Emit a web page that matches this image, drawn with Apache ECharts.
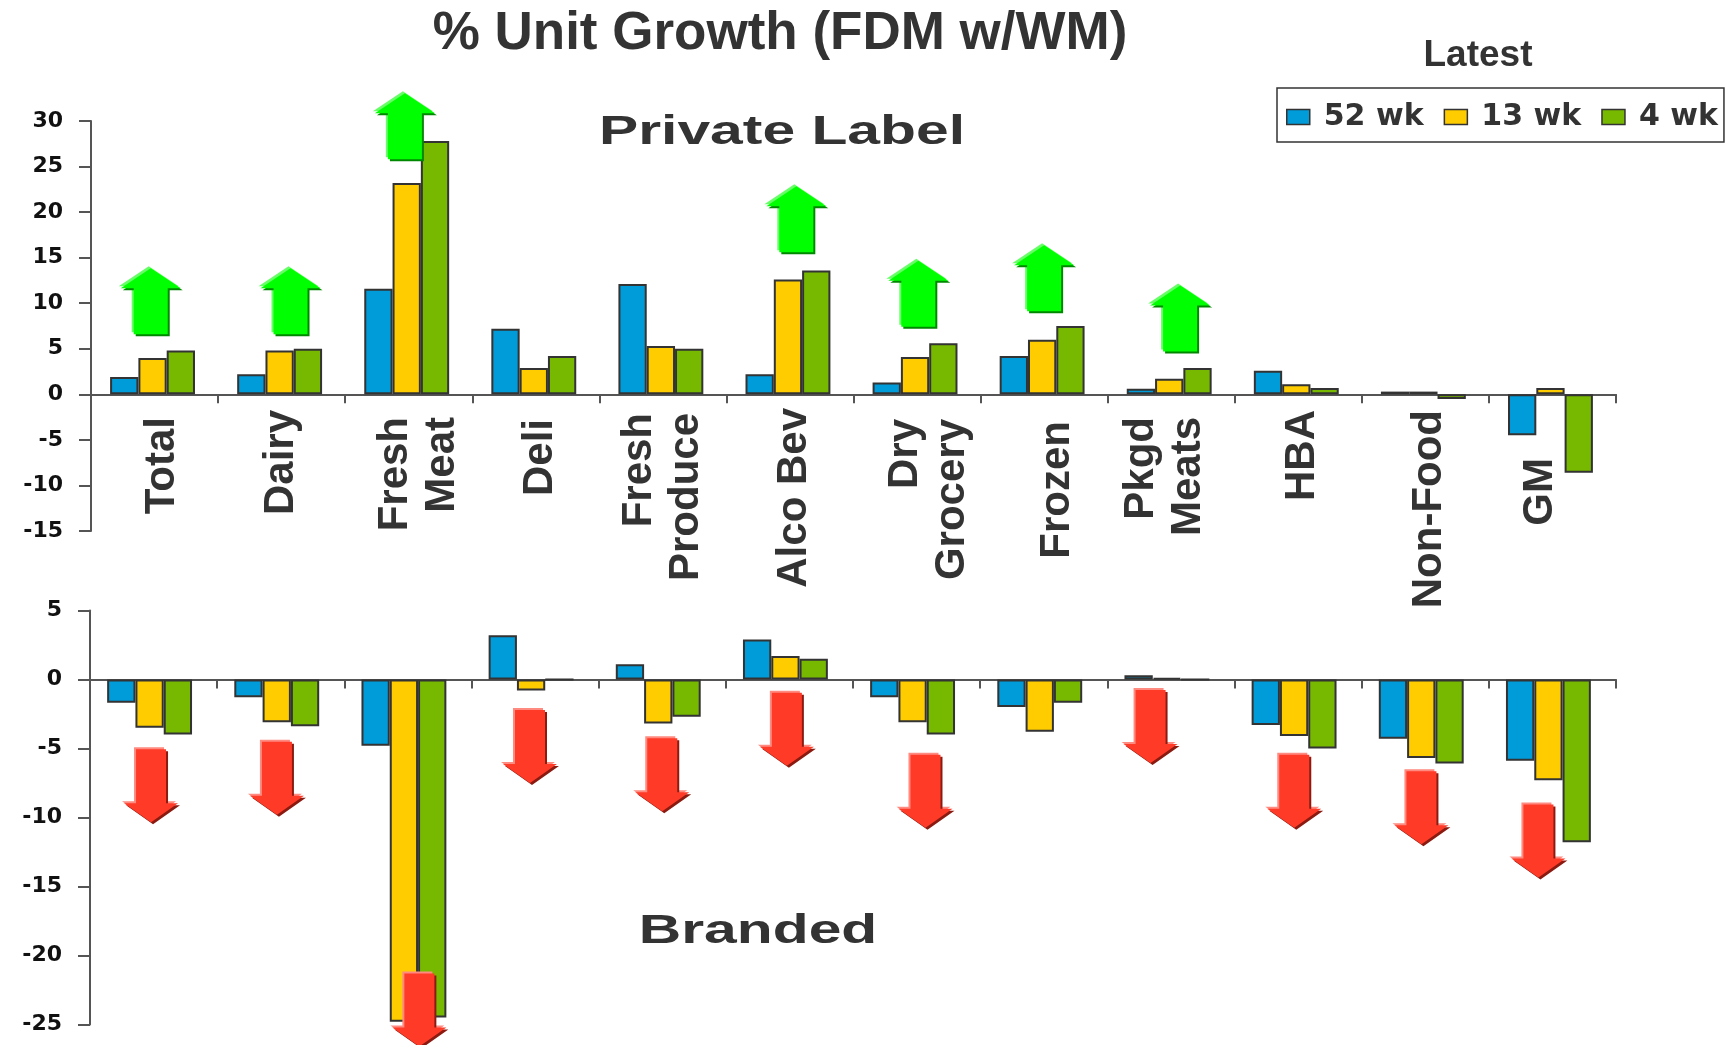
<!DOCTYPE html>
<html>
<head>
<meta charset="utf-8">
<title>% Unit Growth (FDM w/WM)</title>
<style>
  html, body { margin: 0; padding: 0; background: #fff; }
  #chart { width: 1733px; height: 1045px; }
</style>
</head>
<body>
<div id="chart"></div>
<script src="https://cdn.jsdelivr.net/npm/echarts@6/dist/echarts.min.js"></script>
<script>
const categories = ['Total', 'Dairy', 'Fresh\nMeat', 'Deli', 'Fresh\nProduce', 'Alco Bev', 'Dry\nGrocery', 'Frozen', 'Pkgd\nMeats', 'HBA', 'Non-Food', 'GM']
const seriesNames = ['52 wk', '13 wk', '4 wk']

// Private Label
const private52 = [1.9, 2.2, 11.6, 7.2, 12.1, 2.2, 1.3, 4.2, 0.6, 2.6, 0.3, -4.5]
const private13 = [4.0, 4.8, 23.2, 2.9, 5.3, 12.6, 4.1, 6.0, 1.7, 1.1, 0.3, 0.7]
const private4 = [4.8, 5.0, 27.8, 4.2, 5.0, 13.6, 5.6, 7.5, 2.9, 0.7, -0.5, -8.6]

// Branded
const branded52 = [-1.7, -1.3, -4.8, 3.2, 1.1, 2.9, -1.3, -2.0, 0.3, -3.3, -4.3, -5.9]
const branded13 = [-3.5, -3.1, -24.8, -0.8, -3.2, 1.7, -3.1, -3.8, 0.1, -4.1, -5.7, -7.3]
const branded4 = [-4.0, -3.4, -24.5, 0, -2.7, 1.5, -4.0, -1.7, 0, -5.0, -6.1, -11.8]

// arrows: position along the category axis (1 = one category) and value at the tip
const upArrowPos = [0.47, 1.57, 2.47, 5.55, 6.51, 7.50, 8.57]
const upArrowTip = [13.85, 13.85, 33.05, 22.85, 14.65, 16.35, 11.95]
const downArrowPos = [0.48, 1.47, 2.59, 3.46, 4.5, 5.48, 6.57, 8.34, 9.47, 10.47, 11.39]
const downArrowTip = [-10.35, -9.8, -26.6, -7.5, -9.55, -6.25, -10.75, -6.05, -10.75, -11.95, -14.35]

const colors = ['#009CDA', '#FFCC00', '#77B800']
const textColor = '#333'
const axisColor = '#555'
const labelLineHeight = 47

// the rotated labels are hand placed in the original: px nudges per label (right, down)
const labelShiftX = [8, 0, 10, 5, 0, 4, 12, 13, -6, 4, 4, -12]
const labelShiftY = [9, 2, 9, 11, 5, 0, 11, 13, 9, 2, 2, 50]

const chart = echarts.init(document.getElementById('chart'))

const arrowPoints = (x, y, dir, w, h, shaft, head) => {
  // y is the tip, dir -1 means the arrow points up
  const back = -dir
  return [
    [x, y],
    [x + w / 2, y + back * head],
    [x + shaft / 2, y + back * head],
    [x + shaft / 2, y + back * h],
    [x - shaft / 2, y + back * h],
    [x - shaft / 2, y + back * head],
    [x - w / 2, y + back * head]
  ]
}

const arrowRender = (dir, fill, light, dark, w, h, shaft, head) => (params, api) => {
  const p = api.coord([api.value(0), api.value(1)])
  const layer = (dx, dy, color) => ({
    type: 'polygon',
    shape: { points: arrowPoints(p[0] + dx, p[1] + dy, dir, w, h, shaft, head) },
    style: { fill: color }
  })
  return {
    type: 'group',
    children: [layer(-2, -2, light), layer(2, 2, dark), layer(0, 0, fill)]
  }
}

const barSeries = (name, data, idx, axisIdx) => ({
  name,
  type: 'bar',
  data,
  xAxisIndex: axisIdx,
  yAxisIndex: axisIdx,
  barWidth: 28.3,
  barGap: '0%',
  itemStyle: { color: colors[idx], borderColor: '#333', borderWidth: 2 }
})

// empty slot after the three bars, the group sits a bit left of the band centre in the original
const spacerSeries = (axisIdx, width) => ({
  name: 'spacer' + axisIdx,
  type: 'bar',
  data: categories.map(() => null),
  xAxisIndex: axisIdx,
  yAxisIndex: axisIdx,
  barWidth: width,
  barGap: '0%',
  silent: true
})

const valueAxis = (gridIndex, min, max) => ({
  type: 'value',
  gridIndex,
  min,
  max,
  interval: 5,
  splitLine: { show: false },
  axisLine: { show: true, lineStyle: { color: axisColor, width: 2 } },
  axisTick: { show: true, length: 12, lineStyle: { color: axisColor, width: 2 } },
  axisLabel: { color: '#111', fontFamily: 'DejaVu Sans', fontWeight: 'bold', fontSize: 22, margin: 28, padding: [6, 0, 0, 0] }
})

// padding acts on the text before it is rotated. Top padding only moves text when
// verticalAlign is 'top', so take half the block height back to keep it centred on the tick
const categoryItem = (c, i) => ({
  value: c,
  textStyle: {
    verticalAlign: 'top',
    padding: [labelShiftX[i] - c.split('\n').length * labelLineHeight / 2, labelShiftY[i], 0, 0]
  }
})

const categoryAxis = (gridIndex, showLabel) => ({
  type: 'category',
  gridIndex,
  data: categories.map(categoryItem),
  axisLine: { onZero: true, lineStyle: { color: axisColor, width: 2 } },
  axisTick: { show: true, length: 9, lineStyle: { color: axisColor, width: 2 } },
  axisLabel: {
    show: showLabel,
    interval: 0,
    rotate: 90,
    // labels stay at the grid edge with onZero, pull them up under the zero line
    margin: -123,
    align: 'right',
    color: textColor,
    fontFamily: 'Liberation Sans',
    fontWeight: 'bold',
    fontSize: 42,
    lineHeight: labelLineHeight
  }
})

const hiddenAxis = gridIndex => ({ type: 'value', gridIndex, min: 0, max: 12, show: false, position: 'top' })

const option = {
  animation: false,
  backgroundColor: '#fff',
  title: [
    {
      text: '% Unit Growth (FDM w/WM)',
      left: 775,
      top: 3,
      textAlign: 'center',
      textStyle: { color: textColor, fontFamily: 'Liberation Sans', fontWeight: 'bold', fontSize: 53 }
    },
    {
      text: 'Latest',
      left: 1473,
      top: 32,
      textAlign: 'center',
      textStyle: { color: textColor, fontFamily: 'Liberation Sans', fontWeight: 'bold', fontSize: 37 }
    }
  ],
  graphic: [
    {
      type: 'text',
      x: 782,
      y: 133,
      scaleX: 1.47,
      style: {
        text: 'Private Label',
        fill: textColor,
        font: 'bold 40px "Liberation Sans"',
        textAlign: 'center',
        textVerticalAlign: 'middle'
      }
    },
    {
      type: 'text',
      x: 758,
      y: 932,
      scaleX: 1.47,
      style: {
        text: 'Branded',
        fill: textColor,
        font: 'bold 40px "Liberation Sans"',
        textAlign: 'center',
        textVerticalAlign: 'middle'
      }
    }
  ],
  legend: {
    data: seriesNames,
    left: 1277,
    top: 88,
    orient: 'horizontal',
    icon: 'rect',
    itemWidth: 23,
    itemHeight: 15,
    itemGap: 20,
    padding: [14, 6, 10, 9],
    borderColor: '#333',
    borderWidth: 1.5,
    backgroundColor: '#fff',
    itemStyle: { borderColor: '#333', borderWidth: 1.5 },
    textStyle: {
      color: textColor,
      fontFamily: 'DejaVu Sans',
      fontWeight: 'bold',
      fontSize: 30,
      padding: [0, 0, 0, 9]
    }
  },
  grid: [
    { left: 91, top: 121, width: 1525, height: 410 },
    { left: 90, top: 610.4, width: 1526, height: 414 }
  ],
  xAxis: [categoryAxis(0, true), categoryAxis(1, false), hiddenAxis(0), hiddenAxis(1)],
  yAxis: [valueAxis(0, -15, 30), valueAxis(1, -25, 5)],
  series: [
    barSeries(seriesNames[0], private52, 0, 0),
    barSeries(seriesNames[1], private13, 1, 0),
    barSeries(seriesNames[2], private4, 2, 0),
    spacerSeries(0, 4),
    barSeries(seriesNames[0], branded52, 0, 1),
    barSeries(seriesNames[1], branded13, 1, 1),
    barSeries(seriesNames[2], branded4, 2, 1),
    spacerSeries(1, 8),
    {
      name: 'up',
      type: 'custom',
      xAxisIndex: 2,
      yAxisIndex: 0,
      z: 5,
      clip: false,
      silent: true,
      data: upArrowPos.map((x, i) => [x, upArrowTip[i]]),
      renderItem: arrowRender(-1, '#00FF00', '#66FF66', '#008800', 60, 66, 34, 20)
    },
    {
      name: 'down',
      type: 'custom',
      xAxisIndex: 3,
      yAxisIndex: 1,
      z: 5,
      clip: false,
      silent: true,
      data: downArrowPos.map((x, i) => [x, downArrowTip[i]]),
      renderItem: arrowRender(1, '#FF3B28', '#FF8A80', '#8B1A10', 54, 73, 30, 19)
    }
  ]
}

chart.setOption(option)
</script>
</body>
</html>
